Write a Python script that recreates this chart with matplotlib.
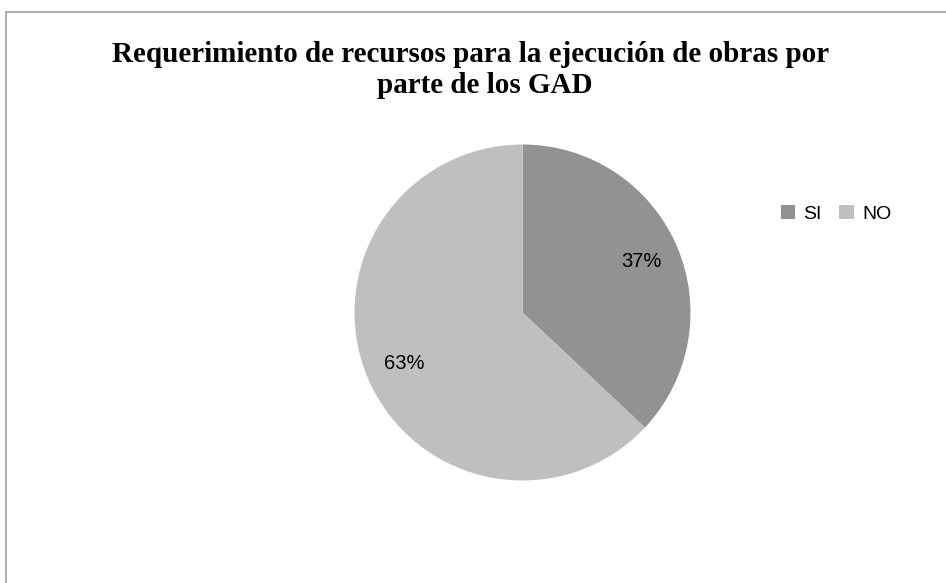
import matplotlib
matplotlib.use("Agg")
import matplotlib.pyplot as plt
from matplotlib.lines import Line2D

# data
labels = ["SI", "NO"]
values = [37, 63]
colors = ["#929292", "#bfbfbf"]
title_lines = ["Requerimiento de recursos para la ejecución de obras por",
               "parte de los GAD"]

W, H = 946, 583
fig = plt.figure(figsize=(W / 100, H / 100), dpi=100)

# pie axes placed as square box in pixels
cx, cy, r = 522.5, 312.5, 168
ax = fig.add_axes([(cx - r) / W, (H - cy - r) / H, 2 * r / W, 2 * r / H])
wedges, texts, autotexts = ax.pie(
    values, colors=colors, startangle=90, counterclock=False,
    autopct="%1.0f%%", pctdistance=0.77, radius=1,
    wedgeprops=dict(linewidth=0),
    textprops=dict(fontsize=14.5, family="Liberation Sans", color="black"))
ax.set_xlim(-1, 1)
ax.set_ylim(-1, 1)
ax.axis("off")

# title, two centred lines
for (x, y), line in zip([(471, 62), (485, 93)], title_lines):
    fig.text(x / W, 1 - y / H, line, ha="center", va="baseline",
             fontsize=21, fontweight="bold", family="Liberation Serif")

# legend
fig.legend(wedges, labels, loc="center left",
           bbox_to_anchor=(763 / W, 1 - 214 / H), ncol=2, frameon=False,
           handlelength=0.77, handleheight=0.77, handletextpad=0.4,
           columnspacing=0.9, prop=dict(family="Liberation Sans", size=14))

# chart-area border (only left and top visible)
fig.add_artist(Line2D([5.5 / W, 5.5 / W], [0, 1 - 12 / H], color="#a0a0a0", lw=1.2))
fig.add_artist(Line2D([5.5 / W, 1], [1 - 12 / H, 1 - 12 / H], color="#a0a0a0", lw=1.2))

fig.savefig("out.png", dpi=100, facecolor="white")
